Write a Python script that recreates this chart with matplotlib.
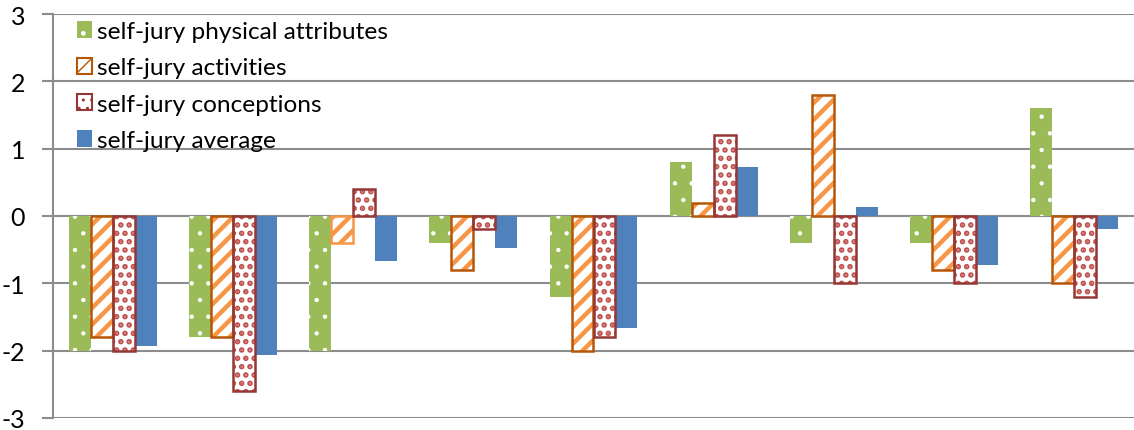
import matplotlib
matplotlib.use("Agg")
import matplotlib.pyplot as plt
import numpy as np
from matplotlib.patches import Patch

categories = ["1", "2", "3", "4", "5", "6", "7", "8", "9"]
physical = [-2.0, -1.8, -2.0, -0.4, -1.2, 0.8, -0.4, -0.4, 1.6]
activities = [-1.8, -1.8, -0.4, -0.8, -2.0, 0.2, 1.8, -0.8, -1.0]
conceptions = [-2.0, -2.6, 0.4, -0.2, -1.8, 1.2, -1.0, -1.0, -1.2]
average = [-1.93, -2.07, -0.67, -0.47, -1.67, 0.73, 0.13, -0.73, -0.2]
yticks = [-3, -2, -1, 0, 1, 2, 3]
labels = ["self-jury physical attributes", "self-jury activities",
          "self-jury conceptions", "self-jury average"]

green = "#9BBB59"
orange = "#F79646"
orange_edge = "#B65708"
red = "#C0504D"
red_edge = "#953735"
blue = "#4F81BD"

plt.rcParams['font.family'] = ['Lato', 'DejaVu Sans']

fig = plt.figure(figsize=(11.34, 4.31), dpi=100)
ax = fig.add_axes([53/1134, 12/431, (1134-53)/1134, (419-15)/431])

x = np.arange(len(categories))
w = 0.183
offs = [-1.5*w, -0.5*w, 0.5*w, 1.5*w]

# physical: green with white dots
with plt.rc_context({'hatch.linewidth': 0.7}):
    ax.bar(x + offs[0], physical, w, color=green, edgecolor="white",
           linewidth=0, hatch=".", zorder=3)
# activities: white with orange stripes
with plt.rc_context({'hatch.linewidth': 3.2}):
    ax.bar(x + offs[1], activities, w, color="white", edgecolor=orange,
           linewidth=0, hatch="//", zorder=3)
edges2 = [orange_edge] * len(categories)
edges2[2] = orange
ax.bar(x + offs[1], activities, w, fill=False, edgecolor=edges2,
       linewidth=1.8, zorder=4)
# conceptions: white with red squares
with plt.rc_context({'hatch.linewidth': 2.7}):
    ax.bar(x + offs[2], conceptions, w, color="white", edgecolor=red,
           linewidth=0, hatch="..", zorder=3)
ax.bar(x + offs[2], conceptions, w, fill=False, edgecolor=red_edge,
       linewidth=1.8, zorder=4)
# average: solid blue
ax.bar(x + offs[3], average, w, color=blue, linewidth=0, zorder=3)

ax.set_xlim(-0.5, len(categories) - 0.5)
ax.set_ylim(-3, 3)
ax.set_yticks(yticks)
ax.set_yticklabels([str(t) for t in yticks], fontsize=18)
ax.set_xticks([])
ax.yaxis.grid(True, color="#8C8C8C", linewidth=1.5, zorder=0)
ax.set_axisbelow(True)
for s in ["top", "right", "bottom"]:
    ax.spines[s].set_visible(False)
ax.spines["left"].set_color("#8C8C8C")
ax.spines["left"].set_linewidth(1.5)
ax.tick_params(axis="y", length=8, width=1.5, color="#8C8C8C", pad=12)

with plt.rc_context({'hatch.linewidth': 1.0}):
    handles = [
        Patch(facecolor=green, edgecolor="white", hatch=".", linewidth=0),
        Patch(facecolor="white", edgecolor=orange_edge, hatch="//", linewidth=1.5),
        Patch(facecolor="white", edgecolor=red_edge, hatch="..", linewidth=1.5),
        Patch(facecolor=blue, linewidth=0),
    ]
leg = ax.legend(handles, labels, loc="upper left", bbox_to_anchor=(0.006, 1.025),
                frameon=False, fontsize=17.6, handlelength=0.65, handleheight=0.65,
                handletextpad=0.2, labelspacing=0.63, borderaxespad=0.3)
fig.savefig("out.png", dpi=100, facecolor="white")
